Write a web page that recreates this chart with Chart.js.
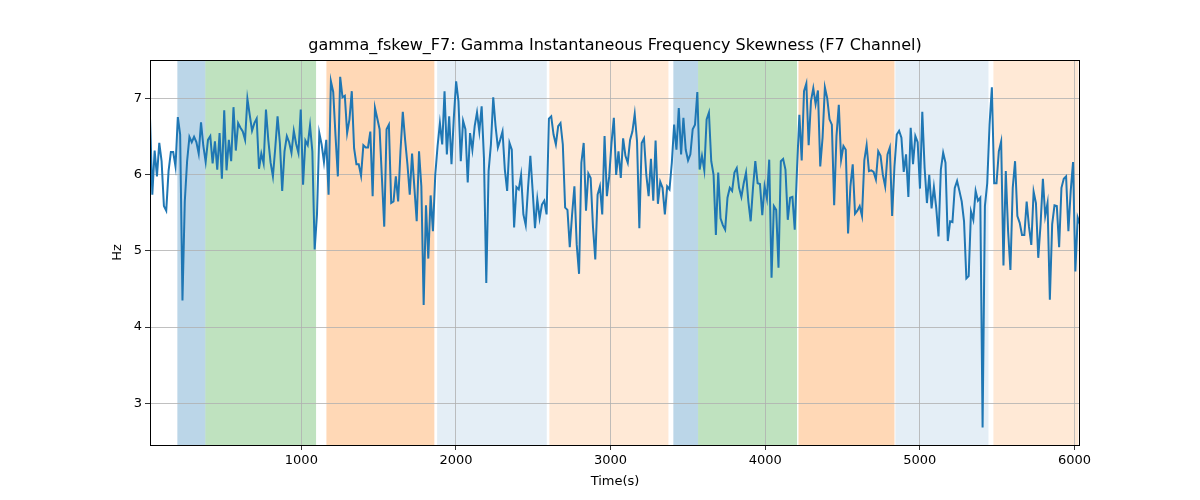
<!DOCTYPE html>
<html>
<head>
<meta charset="utf-8">
<script src="https://cdn.jsdelivr.net/npm/chart.js@4.4.1/dist/chart.umd.min.js"></script>
<style>
    html, body { margin: 0; padding: 0; background: #fff; }
    #wrap { width: 1200px; height: 500px; }
</style>
</head>
<body>
<div id="wrap"><canvas id="chart" width="1200" height="500"></canvas></div>
<script>
// sample times: T_START + i * T_STEP
const T_START = 21;
const T_STEP = 15;

const VALUES = [
    6.75, 5.74, 6.32, 5.98, 6.42, 6.18, 5.59, 5.53, 6.05, 6.30,
    6.30, 6.11, 6.76, 6.53, 4.35, 5.65, 6.18, 6.50, 6.43, 6.50,
    6.43, 6.28, 6.69, 6.38, 6.17, 6.46, 6.51, 6.15, 6.44, 6.07,
    6.55, 5.95, 6.85, 6.06, 6.46, 6.18, 6.89, 6.32, 6.68, 6.62,
    6.57, 6.46, 7.00, 6.79, 6.58, 6.68, 6.74, 6.08, 6.28, 6.15,
    6.86, 6.46, 6.16, 5.98, 6.35, 6.77, 6.42, 5.79,
    6.31, 6.51, 6.43, 6.29, 6.58, 6.41, 6.29, 6.86, 5.87, 6.45,
    6.39, 6.65, 6.31, 5.02, 5.48, 6.55, 6.40, 6.17, 6.46, 5.74,
    7.23, 7.09, 6.51, 5.98, 7.29, 7.02, 7.04, 6.55, 6.73, 7.10,
    6.35, 6.14, 6.14, 5.99, 6.39, 6.36, 6.36, 6.57, 5.72, 6.88,
    6.74, 6.60, 5.96, 5.32, 6.60, 6.66, 5.63, 5.65, 5.98, 5.65,
    6.31, 6.83, 6.46, 6.14, 5.74, 6.28, 5.83, 5.39,
    6.31, 5.85, 4.29, 5.60, 4.90, 5.73, 5.26, 6.00, 6.38, 6.68,
    6.40, 7.10, 6.27, 6.77, 6.14, 6.75, 7.23, 6.97, 6.18, 6.71,
    6.60, 5.90, 6.55, 6.33, 6.64, 6.82, 6.57, 6.90, 6.22, 4.58,
    6.05, 6.40, 7.02, 6.64, 6.36, 6.46, 6.57, 6.07, 5.79, 6.42,
    6.33, 5.31, 5.84, 5.81, 6.00, 5.48, 5.34, 5.83, 6.25, 5.79,
    5.30, 5.68, 5.43, 5.61, 5.66, 5.48, 6.74, 6.77,
    6.53, 6.40, 6.64, 6.68, 6.40, 5.57, 5.54, 5.05, 5.48, 5.85,
    5.08, 4.70, 6.16, 6.42, 5.53, 6.02, 5.96, 5.32, 4.89, 5.74,
    5.85, 5.48, 6.51, 5.72, 5.98, 6.42, 6.75, 6.00, 6.31, 5.96,
    6.48, 6.25, 6.16, 6.46, 6.57, 6.80, 6.44, 5.30, 6.42, 6.48,
    6.00, 5.72, 6.21, 5.66, 6.45, 5.62, 5.91, 5.83, 5.48, 5.85,
    5.81, 6.16, 6.66, 6.33, 6.88, 6.27, 6.75, 6.33, 6.19,
    6.27, 6.60, 6.66, 7.09, 6.07, 6.25, 6.06, 6.73, 6.82, 6.18,
    6.00, 5.21, 6.03, 5.43, 5.34, 5.28, 5.70, 5.83, 5.79, 6.03,
    6.09, 5.83, 5.71, 5.89, 6.03, 5.65, 5.39, 5.83, 6.18, 5.89,
    5.88, 5.47, 5.85, 5.69, 6.20, 4.65, 5.59, 5.54, 4.78, 6.18,
    6.21, 6.07, 5.41, 5.70, 5.71, 5.28, 6.09, 6.79, 6.19, 7.10,
    7.20, 6.39, 6.97, 7.14, 6.93, 7.11, 6.11, 6.49,
    7.15, 7.01, 6.73, 6.66, 5.60, 6.51, 6.92, 6.20, 6.38, 6.33,
    5.23, 5.85, 6.14, 5.49, 5.53, 5.59, 5.46, 6.19, 6.39, 6.05,
    6.06, 6.04, 5.94, 6.31, 6.25, 6.00, 5.85, 6.27, 6.36, 5.46,
    6.11, 6.53, 6.58, 6.49, 6.04, 6.27, 5.71, 6.62, 6.14, 6.51,
    6.43, 5.82, 6.83, 6.09, 5.63, 6.00, 5.56, 5.84, 5.57, 5.19,
    6.07, 6.29, 6.16, 5.13, 5.39, 5.38, 5.83, 5.92,
    5.79, 5.65, 5.39, 4.64, 4.67, 5.52, 5.41, 5.79, 5.66, 5.70,
    2.68, 5.59, 5.89, 6.66, 7.15, 5.89, 5.89, 6.31, 6.44, 4.81,
    6.05, 5.26, 4.75, 5.83, 6.18, 5.46, 5.37, 5.21, 5.21, 5.65,
    5.32, 5.08, 5.78, 5.63, 4.91, 5.35, 5.95, 5.46, 5.63, 4.36,
    5.35, 5.60, 5.59, 5.05, 5.83, 5.95, 5.98, 5.26, 5.79, 6.17,
    4.73, 5.44, 5.35
];

const X_TICKS = [1000, 2000, 3000, 4000, 5000, 6000];
const Y_TICKS = [3, 4, 5, 6, 7];
const Y_MIN = 2.45;
const Y_MAX = 7.51;

// shaded phases (seconds)
const SPAN_STARTS = [198, 379, 1162, 1878, 2604, 3406, 3566, 4215, 4842, 5476];
const SPAN_ENDS   = [379, 1095, 1860, 2587, 3374, 3566, 4206, 4836, 5444, 6025];
const SPAN_COLORS = [
    'rgba(31,119,180,0.3)',
    'rgba(44,160,44,0.3)',
    'rgba(255,127,14,0.3)',
    'rgba(31,119,180,0.12)',
    'rgba(255,127,14,0.17)',
    'rgba(31,119,180,0.3)',
    'rgba(44,160,44,0.3)',
    'rgba(255,127,14,0.3)',
    'rgba(31,119,180,0.12)',
    'rgba(255,127,14,0.17)',
];

const points = VALUES.map((v, i) => ({ x: T_START + i * T_STEP, y: v }));
const tMax = T_START + (VALUES.length - 1) * T_STEP;

const FONT = 'DejaVu Sans';

const spansPlugin = {
    id: 'spans',
    beforeDraw(chart) {
        const { ctx, chartArea, scales } = chart;
        ctx.save();
        ctx.beginPath();
        ctx.rect(chartArea.left, chartArea.top, chartArea.right - chartArea.left, chartArea.bottom - chartArea.top);
        ctx.clip();
        SPAN_STARTS.forEach((start, i) => {
            const x0 = scales.x.getPixelForValue(start);
            const x1 = scales.x.getPixelForValue(SPAN_ENDS[i]);
            ctx.fillStyle = SPAN_COLORS[i];
            ctx.fillRect(x0, chartArea.top, x1 - x0, chartArea.bottom - chartArea.top);
        });
        ctx.restore();
    },
};

const framePlugin = {
    id: 'frame',
    afterDatasetsDraw(chart) {
        const { ctx, chartArea } = chart;
        ctx.save();
        ctx.strokeStyle = '#000';
        ctx.lineWidth = 1;
        ctx.strokeRect(chartArea.left + 0.5, chartArea.top + 0.5,
            chartArea.right - chartArea.left - 1, chartArea.bottom - chartArea.top);
        ctx.restore();
    },
};

new Chart(document.getElementById('chart').getContext('2d'), {
    type: 'line',
    data: {
        datasets: [{
            data: points,
            borderColor: '#1f77b4',
            borderWidth: 2,
            pointRadius: 0,
            tension: 0,
            fill: false,
        }],
    },
    options: {
        responsive: false,
        animation: false,
        devicePixelRatio: 1,
        layout: { padding: { left: 0, right: 120, top: 0, bottom: 0 } },
        plugins: {
            legend: { display: false },
            tooltip: { enabled: false },
            title: {
                display: true,
                fullSize: false,
                text: 'gamma_fskew_F7: Gamma Instantaneous Frequency Skewness (F7 Channel)',
                color: '#000',
                font: { family: FONT, size: 16, weight: 'normal' },
                padding: { top: 36, bottom: 4.8 },
            },
        },
        scales: {
            x: {
                type: 'linear',
                min: T_START,
                max: tMax,
                afterBuildTicks: (s) => { s.ticks = X_TICKS.map((v) => ({ value: v })); },
                afterFit: (s) => { s.height = 55; },
                ticks: {
                    color: '#000',
                    font: { family: FONT, size: 13 },
                    maxRotation: 0,
                    autoSkip: false,
                    padding: 3,
                    callback: (v) => String(v),
                },
                grid: { color: '#b0b0b0', lineWidth: 0.8, tickColor: '#000', tickLength: 5 },
                border: { display: false },
                title: {
                    display: true,
                    text: 'Time(s)',
                    color: '#000',
                    font: { family: FONT, size: 13 },
                    padding: { top: 11, bottom: 11 },
                },
            },
            y: {
                type: 'linear',
                min: Y_MIN,
                max: Y_MAX,
                afterBuildTicks: (s) => { s.ticks = Y_TICKS.map((v) => ({ value: v })); },
                afterFit: (s) => { s.width = 150; },
                ticks: {
                    color: '#000',
                    font: { family: FONT, size: 13 },
                    padding: 3,
                    callback: (v) => String(v),
                },
                grid: { color: '#b0b0b0', lineWidth: 0.8, tickColor: '#000', tickLength: 5 },
                border: { display: false },
                title: {
                    display: true,
                    text: 'Hz',
                    color: '#000',
                    font: { family: FONT, size: 13 },
                    padding: { top: 110, bottom: 0 },
                },
            },
        },
    },
    plugins: [spansPlugin, framePlugin],
});
</script>
</body>
</html>
